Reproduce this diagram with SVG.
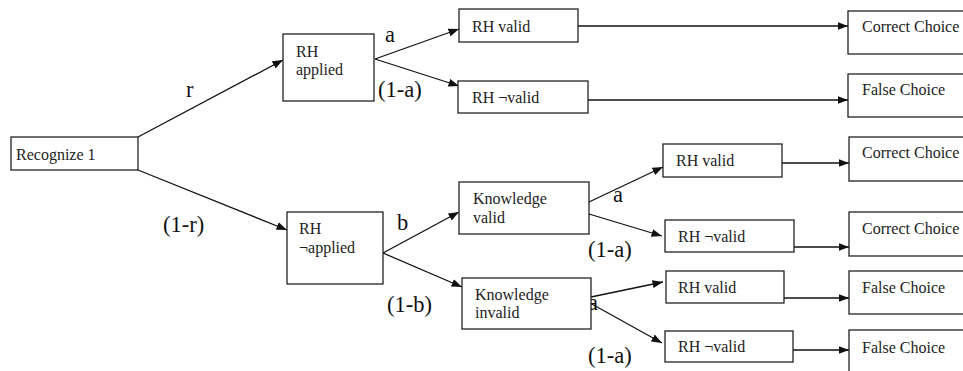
<svg xmlns="http://www.w3.org/2000/svg" width="963" height="371" viewBox="0 0 963 371">
<defs>
<marker id="ah" markerWidth="11" markerHeight="9" refX="10.5" refY="4.5" orient="auto" markerUnits="userSpaceOnUse">
<path d="M0,0.5 L10.5,4.5 L0,8.5 z" fill="#111"/>
</marker>
<style>
.box{fill:#fff;stroke:#222;stroke-width:1.3}
.t{font-family:"Liberation Serif","Times New Roman",serif;font-size:16px;fill:#222}
.lbl{font-family:"Liberation Serif","Times New Roman",serif;font-size:22.5px;fill:#111}
.c{fill:none;stroke:#111;stroke-width:1.3}
.ca{fill:none;stroke:#111;stroke-width:1.3;marker-end:url(#ah)}
</style>
</defs>
<rect width="963" height="371" fill="#fff"/>
<g id="connectors">
<line class="ca" x1="138" y1="137" x2="283" y2="60"/>
<line class="ca" x1="138" y1="170" x2="287" y2="230"/>
<line class="ca" x1="375" y1="59" x2="459" y2="29"/>
<line class="ca" x1="375" y1="59" x2="459" y2="86"/>
<line class="ca" x1="578" y1="26" x2="848" y2="26"/>
<line class="ca" x1="588" y1="100" x2="848" y2="100"/>
<line class="ca" x1="383" y1="253" x2="459" y2="212"/>
<line class="ca" x1="383" y1="253" x2="462" y2="287"/>
<line class="ca" x1="589" y1="202" x2="663" y2="167"/>
<line class="ca" x1="589" y1="214" x2="662" y2="236"/>
<line class="ca" x1="591" y1="297" x2="663" y2="282"/>
<line class="ca" x1="590" y1="303" x2="662" y2="343"/>
<line class="ca" x1="782" y1="163" x2="849" y2="163"/>
<line class="ca" x1="794" y1="247" x2="849" y2="247"/>
<line class="ca" x1="783" y1="298" x2="849" y2="298"/>
<line class="ca" x1="793" y1="350" x2="849" y2="350"/>
</g>
<g id="labels">
<text class="lbl" x="186" y="97">r</text>
<text class="lbl" x="163" y="232">(1-r)</text>
<text class="lbl" x="385" y="42">a</text>
<text class="lbl" x="378" y="97">(1-a)</text>
<text class="lbl" x="397" y="230">b</text>
<text class="lbl" x="387" y="312">(1-b)</text>
<text class="lbl" x="613" y="202">a</text>
<text class="lbl" x="588" y="257">(1-a)</text>
<text class="lbl" x="588" y="310">a</text>
<text class="lbl" x="588" y="363">(1-a)</text>
</g>
<g id="recognize"><rect class="box" x="11" y="137" width="127" height="33"/><text class="t" x="16" y="160">Recognize 1</text></g>
<g id="rh-applied"><rect class="box" x="283" y="34" width="91" height="67"/><text class="t" x="296" y="57">RH</text><text class="t" x="296" y="75">applied</text></g>
<g id="rh-not-applied"><rect class="box" x="287" y="212" width="96" height="72"/><text class="t" x="299" y="234">RH</text><text class="t" x="299" y="253">¬applied</text></g>
<g id="rh-valid-1"><rect class="box" x="459" y="9" width="119" height="33"/><text class="t" x="472" y="32">RH valid</text></g>
<g id="rh-notvalid-1"><rect class="box" x="458" y="81" width="130" height="32"/><text class="t" x="472" y="103">RH ¬valid</text></g>
<g id="knowledge-valid"><rect class="box" x="459" y="182" width="130" height="52"/><text class="t" x="473" y="204">Knowledge</text><text class="t" x="473" y="223">valid</text></g>
<g id="knowledge-invalid"><rect class="box" x="462" y="278" width="129" height="51"/><text class="t" x="475" y="300">Knowledge</text><text class="t" x="475" y="318">invalid</text></g>
<g id="rh-valid-2"><rect class="box" x="663" y="144" width="119" height="33"/><text class="t" x="676" y="166">RH valid</text></g>
<g id="rh-notvalid-2"><rect class="box" x="665" y="220" width="129" height="32"/><text class="t" x="678" y="242">RH ¬valid</text></g>
<g id="rh-valid-3"><rect class="box" x="666" y="271" width="118" height="32"/><text class="t" x="678" y="293">RH valid</text></g>
<g id="rh-notvalid-3"><rect class="box" x="665" y="331" width="128" height="31"/><text class="t" x="678" y="352">RH ¬valid</text></g>
<g id="correct-1"><rect class="box" x="848" y="11" width="130" height="43"/><text class="t" x="862" y="32">Correct Choice</text></g>
<g id="false-1"><rect class="box" x="848" y="74" width="130" height="43"/><text class="t" x="862" y="95">False Choice</text></g>
<g id="correct-2"><rect class="box" x="849" y="137" width="130" height="44"/><text class="t" x="862" y="158">Correct Choice</text></g>
<g id="correct-3"><rect class="box" x="849" y="212" width="130" height="44"/><text class="t" x="862" y="234">Correct Choice</text></g>
<g id="false-2"><rect class="box" x="849" y="271" width="130" height="43"/><text class="t" x="862" y="293">False Choice</text></g>
<g id="false-3"><rect class="box" x="849" y="330" width="130" height="50"/><text class="t" x="862" y="353">False Choice</text></g>
</svg>
